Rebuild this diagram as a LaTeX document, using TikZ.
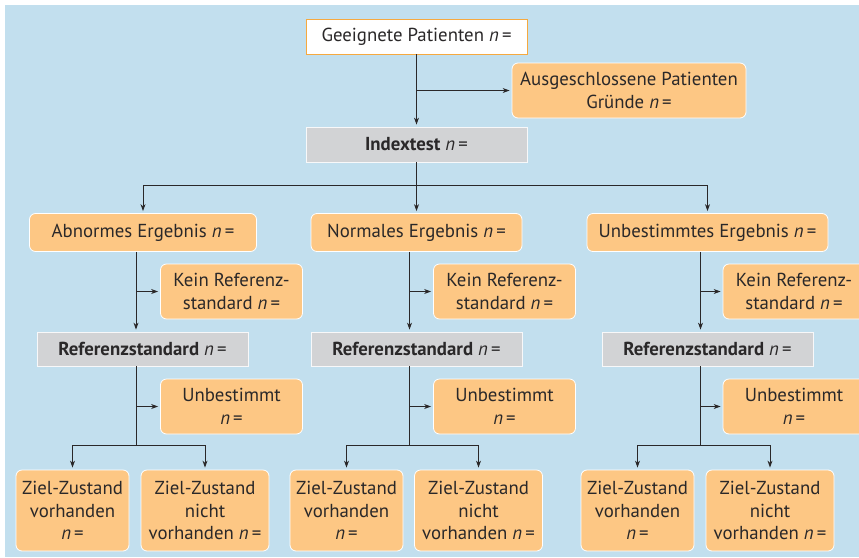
\documentclass[tikz,border=0pt]{standalone}
\usepackage{fontspec}
\setmainfont{PT Sans}
\usetikzlibrary{arrows.meta}
\definecolor{bgblue}{HTML}{C2DFEE}
\definecolor{boxorange}{HTML}{FDC784}
\definecolor{boxgray}{HTML}{D2D3D5}
\definecolor{lineorange}{HTML}{F6A93F}
\definecolor{ink}{HTML}{2A2829}
\tikzset{
  every node/.style={font=\fontsize{18.8}{22.5}\selectfont, text=ink, align=center, inner sep=0pt},
  orangebox/.style={rectangle, rounded corners=6pt, fill=boxorange, draw=white, line width=0.8pt},
  graybox/.style={rectangle, fill=boxgray, draw=white!85!boxgray, line width=0.8pt},
  whitebox/.style={rectangle, fill=white, draw=lineorange, line width=0.9pt},
  conn/.style={draw=ink, line width=1pt},
  arr/.style={conn, -{Stealth[length=7pt,width=5pt]}, shorten >=2pt}
}
\newcommand{\nis}{\textit{n}\,=}
\begin{document}
\begin{tikzpicture}[x=1pt,y=-1pt]
  \useasboundingbox (0,0) rectangle (859,557);
  \fill[white] (0,0) rectangle (859,557);
  \fill[bgblue] (5,5) rectangle (859,557);
  \clip (0,0) rectangle (859,557);

  % top
  \node[whitebox, minimum width=221pt, minimum height=35pt] (geeig) at (416.5,36.5) {Geeignete Patienten \nis};
  \node[orangebox, minimum width=234pt, minimum height=55pt] (ausge) at (629,90.5) {Ausgeschlossene Patienten\\Gründe \nis};
  \node[graybox, minimum width=221pt, minimum height=35pt] (index) at (416.5,144.5) {\textbf{Indextest} \nis};

  % results
  \node[orangebox, minimum width=227pt, minimum height=38pt] (labn) at (143,232.5) {Abnormes Ergebnis \nis};
  \node[orangebox, minimum width=211pt, minimum height=38pt] (cnorm) at (416.5,232.5) {Normales Ergebnis \nis};
  \node[orangebox, minimum width=241pt, minimum height=38pt] (runb) at (707.5,232.5) {Unbestimmtes Ergebnis \nis};

  % spines
  \coordinate (ls) at ([xshift=-7pt]labn.south);
  \coordinate (cs) at ([xshift=-7pt]cnorm.south);
  \coordinate (rs) at ([xshift=-7pt]runb.south);

  % no reference standard
  \node[orangebox, minimum width=142pt, minimum height=55pt] (lkein) at (231.5,291.5) {Kein Referenz-\\standard \nis};
  \node[orangebox, minimum width=142pt, minimum height=55pt] (ckein) at (504.5,291.5) {Kein Referenz-\\standard \nis};
  \node[orangebox, minimum width=142pt, minimum height=55pt] (rkein) at (794,291.5) {Kein Referenz-\\standard \nis};

  % reference standard
  \node[graybox, minimum width=211pt, minimum height=34pt] (lref) at (142.5,349) {\textbf{Referenzstandard} \nis};
  \node[graybox, minimum width=211pt, minimum height=34pt] (cref) at (416.5,349) {\textbf{Referenzstandard} \nis};
  \node[graybox, minimum width=211pt, minimum height=34pt] (rref) at (707.5,349) {\textbf{Referenzstandard} \nis};

  % undetermined
  \node[orangebox, minimum width=142pt, minimum height=55pt] (lunb) at (231.5,406.5) {Unbestimmt\\\nis};
  \node[orangebox, minimum width=142pt, minimum height=55pt] (cunb) at (504.5,406.5) {Unbestimmt\\\nis};
  \node[orangebox, minimum width=142pt, minimum height=55pt] (runbest) at (794,406.5) {Unbestimmt\\\nis};

  % target condition
  \node[orangebox, minimum width=113pt, minimum height=81pt] (lz1) at (72.5,510.5) {Ziel-Zustand\\vorhanden\\\nis};
  \node[orangebox, minimum width=128pt, minimum height=81pt] (lz2) at (205,510.5) {Ziel-Zustand\\nicht\\vorhanden \nis};
  \node[orangebox, minimum width=113pt, minimum height=81pt] (cz1) at (346.5,510.5) {Ziel-Zustand\\vorhanden\\\nis};
  \node[orangebox, minimum width=128pt, minimum height=81pt] (cz2) at (478.5,510.5) {Ziel-Zustand\\nicht\\vorhanden \nis};
  \node[orangebox, minimum width=113pt, minimum height=81pt] (rz1) at (637.5,510.5) {Ziel-Zustand\\vorhanden\\\nis};
  \node[orangebox, minimum width=128pt, minimum height=81pt] (rz2) at (770,510.5) {Ziel-Zustand\\nicht\\vorhanden \nis};

  % top connectors
  \draw[arr] (geeig) -- (index);
  \draw[arr] (ausge.west -| geeig.south) -- (ausge.west);
  \coordinate (bus) at (416.5,185);
  \draw[conn] (index.south) -- (bus);
  \draw[arr] (bus) -| (labn.north);
  \draw[arr] (bus) -| (runb.north);
  \draw[arr] (bus) -- (cnorm.north);

  % column connectors
  \foreach \c in {l,r,c} {
    \coordinate (\c split) at ([yshift=-79pt]\c ref.south -| \c s);
  }
  \foreach \c in {l,c,r} {
    \draw[arr] (\c s) -- (\c ref.north -| \c s);
    \draw[arr] (\c kein.west -| \c s) -- (\c kein.west);
    \draw[conn] (\c ref.south -| \c s) -- (\c split);
    \draw[arr] (\c split) -| (\c z1.north);
    \draw[arr] (\c split) -| (\c z2.north);
  }
  \draw[arr] (lunb.west -| ls) -- (lunb.west);
  \draw[arr] (cunb.west -| cs) -- (cunb.west);
  \draw[arr] (runbest.west -| rs) -- (runbest.west);
\end{tikzpicture}
\end{document}
